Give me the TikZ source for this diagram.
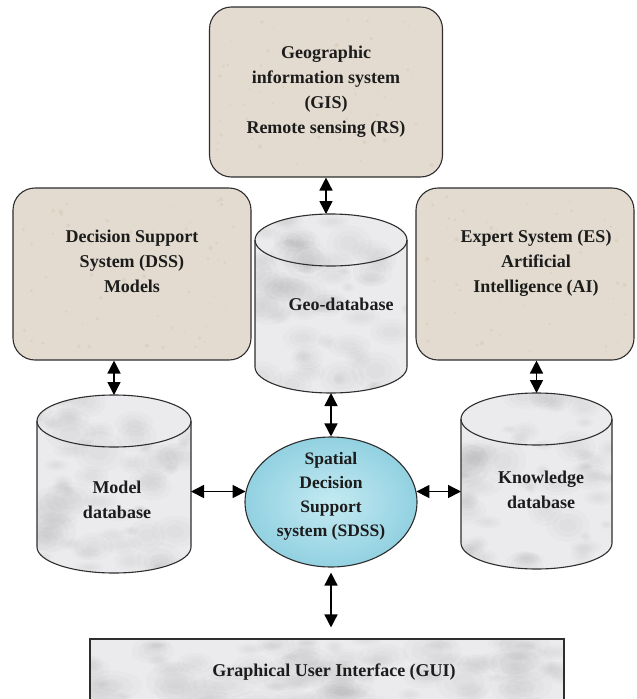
\documentclass[tikz,border=0pt]{standalone}
\usepackage{fontspec}
\setmainfont{Liberation Serif}
\usetikzlibrary{arrows.meta,shapes.geometric}
\definecolor{beige}{HTML}{E3DBCF}
\definecolor{edgec}{HTML}{2E2E2E}
\definecolor{marble}{HTML}{EBEBED}
\definecolor{textc}{HTML}{1C1C1C}
\definecolor{cyanin}{HTML}{C4EAF2}
\definecolor{cyanout}{HTML}{92D1E1}
\tikzset{
  x=1pt, y=-1pt,
  rbox/.style={draw=edgec, line width=1.1pt, fill=beige, rounded corners=22pt, inner sep=0pt},
  lbl/.style={font=\bfseries\fontsize{18}{25}\selectfont, align=center, text=textc, inner sep=0pt},
  conn/.style={line width=1.5pt, draw=black, {Triangle[length=13pt,width=13pt]}-{Triangle[length=13pt,width=13pt]}},
  area/.style={inner sep=0pt, outer sep=0pt},
  blob/.style={fill=gray!80, opacity=0.045},
  speck/.style={fill=brown!50!gray, opacity=0.10},
}
% soft blob: three nested ellipses
\newcommand\softblob[4]{%
  \fill[blob] (#1,#2) ellipse[x radius=#3, y radius=#4];
  \pgfmathsetmacro\sbA{0.7*#3}\pgfmathsetmacro\sbB{0.7*#4}%
  \fill[blob] (#1,#2) ellipse[x radius=\sbA, y radius=\sbB];
  \pgfmathsetmacro\sbA{0.4*#3}\pgfmathsetmacro\sbB{0.4*#4}%
  \fill[blob] (#1,#2) ellipse[x radius=\sbA, y radius=\sbB];
}
% #1 name, #2 left, #3 right, #4 top-ellipse centre y, #5 bottom-ellipse centre y, #6 y radius, #7 seed
\newcommand\dbcyl[7]{%
  \pgfmathsetmacro\dbcx{(#2+#3)/2}%
  \pgfmathsetmacro\dbrx{(#3-#2)/2}%
  \pgfmathsetmacro\dbw{#3-#2}%
  \pgfmathsetmacro\dbh{#5-#4+2*#6}%
  \pgfmathsetmacro\dbcy{(#4+#5)/2}%
  \fill[marble] (#2,#4) -- (#2,#5) arc[start angle=180,end angle=0,x radius=\dbrx,y radius=#6] -- (#3,#4) arc[start angle=0,end angle=-180,x radius=\dbrx,y radius=#6] -- cycle;
  \begin{scope}
    \clip (#2,#4) -- (#2,#5) arc[start angle=180,end angle=0,x radius=\dbrx,y radius=#6] -- (#3,#4) arc[start angle=0,end angle=-180,x radius=\dbrx,y radius=#6] -- cycle;
    \pgfmathsetseed{#7}%
    \foreach \i in {1,...,55}{%
      \pgfmathsetmacro\bx{#2+rnd*(#3-#2)}%
      \pgfmathsetmacro\by{#4-#6+rnd*(#5-#4+2*#6)}%
      \pgfmathsetmacro\br{6+rnd*20}%
      \pgfmathsetmacro\bry{0.4*\br+rnd*0.5*\br}%
      \softblob{\bx}{\by}{\br}{\bry}
    }
  \end{scope}
  \draw[line width=1.1pt, draw=edgec] (#2,#4) -- (#2,#5) arc[start angle=180,end angle=0,x radius=\dbrx,y radius=#6] -- (#3,#4);
  \draw[line width=1.1pt, draw=edgec] (\dbcx,#4) ellipse[x radius=\dbrx, y radius=#6];
  \node[area, minimum width=\dbw pt, minimum height=\dbh pt] (#1) at (\dbcx,\dbcy) {};
}
% speckles in a rectangle: #1 left #2 top #3 right #4 bottom #5 seed
\newcommand\specks[5]{%
  \begin{scope}
    \pgfmathsetseed{#5}%
    \foreach \i in {1,...,60}{%
      \pgfmathsetmacro\sx{#1+8+rnd*(#3-#1-16)}%
      \pgfmathsetmacro\sy{#2+8+rnd*(#4-#2-16)}%
      \pgfmathsetmacro\sr{0.6+rnd*1.6}%
      \fill[speck] (\sx,\sy) circle[radius=\sr];
    }
  \end{scope}
}
\begin{document}
\begin{tikzpicture}
\useasboundingbox (0,0) rectangle (637,699);
\fill[white] (0,0) rectangle (637,699);

% rounded boxes
\node[rbox, minimum width=233pt, minimum height=170pt] (gis) at (326,92) {};
\specks{209}{7}{443}{177}{11}
\node[lbl] (gist) at (326,92) {Geographic\\information system\\(GIS)\\Remote sensing (RS)};

\node[rbox, minimum width=238pt, minimum height=172pt] (dss) at (132,274) {};
\specks{13}{188}{251}{360}{12}
\node[lbl] (dsst) at (132,261) {Decision Support\\System (DSS)\\Models};

\node[rbox, minimum width=218pt, minimum height=172pt] (es) at (525,274) {};
\specks{416}{188}{634}{360}{13}
\node[lbl] (est) at (536,263) {Expert System (ES)\\Artificial\\Intelligence (AI)};

% cylinders
\dbcyl{geo}{255}{407}{240}{367}{26}{21}
\node[lbl] (geot) at (341,304) {Geo-database};

\dbcyl{model}{37}{191}{421}{547}{26}{22}
\node[lbl] (modelt) at (117,500) {Model\\database};

\dbcyl{know}{461}{612}{419}{543}{26}{23}
\node[lbl] (knowt) at (541,490) {Knowledge\\database};

% SDSS ellipse
\node[ellipse, draw=edgec, line width=1.1pt, minimum width=172pt, minimum height=130pt, inner sep=0pt, inner color=cyanin, outer color=cyanout] (sdss) at (331,502) {};
\node[lbl, font=\bfseries\fontsize{17.5}{24}\selectfont] (sdsst) at (331,496) {Spatial\\Decision\\Support\\system (SDSS)};

% GUI box
\fill[marble] (90,639) rectangle (564,720);
\begin{scope}
  \clip (90,639) rectangle (564,720);
  \pgfmathsetseed{31}
  \foreach \i in {1,...,80}{%
    \pgfmathsetmacro\bx{90+rnd*474}%
    \pgfmathsetmacro\by{639+rnd*70}%
    \pgfmathsetmacro\br{8+rnd*24}%
    \pgfmathsetmacro\bry{0.3*\br+rnd*0.4*\br}%
    \softblob{\bx}{\by}{\br}{\bry}
  }
\end{scope}
\node[draw=edgec, line width=1.1pt, minimum width=474pt, minimum height=81pt, inner sep=0pt] (gui) at (327,679.5) {};
\node[lbl] (guit) at (334,672) {Graphical User Interface (GUI)};

% connectors
\draw[conn] (gis.south) -- (gis.south |- geo.north);
\draw[conn] (geo.south) -- (geo.south |- sdss.north);
\draw[conn] (model.north |- dss.south) -- (model.north);
\draw[conn] (know.north |- es.south) -- (know.north);
\draw[conn] (sdss.173 -| model.east) -- (sdss.173);
\draw[conn] (sdss.7) -- (sdss.7 -| know.west);
\draw[conn, shorten <=5pt, shorten >=11pt] (sdss.south) -- (sdss.south |- gui.north);
\end{tikzpicture}
\end{document}
